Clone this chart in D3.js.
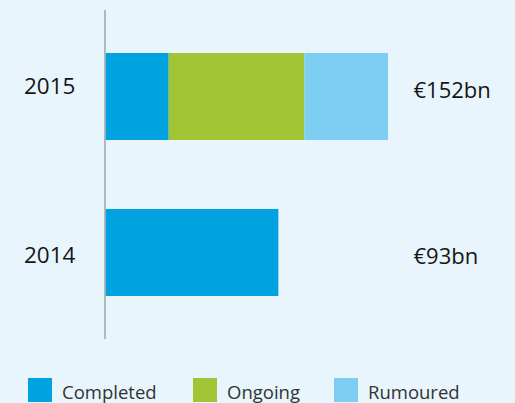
<!DOCTYPE html>
<html>
<head>
<meta charset="utf-8">
<script src="https://cdn.jsdelivr.net/npm/d3@7"></script>
<style>
  html, body { margin: 0; padding: 0; background: #e8f5fc; }
  svg { display: block; }
  text { font-family: "Open Sans", "Noto Sans", sans-serif; }
</style>
</head>
<body>
<svg id="chart" width="515" height="403"></svg>
<script>
const categories = ["2015", "2014"];
const seriesNames = ["Completed", "Ongoing", "Rumoured"];
const completed = [34, 93];
const ongoing = [73, 0];
const rumoured = [45, 0];
const totalLabels = ["€152bn", "€93bn"];
const colors = ["#00a3e0", "#a2c536", "#7ecef3"];

const svg = d3.select("#chart");
svg.append("rect").attr("width", 515).attr("height", 403).attr("fill", "#e8f5fc");

const rows = categories.map((c, i) => ({
  cat: c, Completed: completed[i], Ongoing: ongoing[i], Rumoured: rumoured[i]
}));
const stacked = d3.stack().keys(seriesNames)(rows);

const x = d3.scaleLinear().domain([0, 152]).range([105.5, 388]);
const y = d3.scaleBand().domain(categories).range([53, 296]).paddingInner(0.4423).paddingOuter(0);
const color = d3.scaleOrdinal().domain(seriesNames).range(colors);

svg.append("g").selectAll("g")
  .data(stacked).join("g")
  .attr("fill", d => color(d.key))
  .selectAll("rect")
  .data(d => d).join("rect")
  .attr("x", d => x(d[0]))
  .attr("y", d => y(d.data.cat))
  .attr("width", d => x(d[1]) - x(d[0]))
  .attr("height", y.bandwidth());

// vertical axis line
svg.append("line")
  .attr("x1", 105).attr("x2", 105)
  .attr("y1", 10).attr("y2", 339)
  .attr("stroke", "#a0a4a8").attr("stroke-width", 1.5);

// category labels
const labelOffsets = { "2015": -2.5, "2014": 11 };
svg.append("g").selectAll("text")
  .data(categories).join("text")
  .attr("x", 24)
  .attr("y", d => y(d) + y.bandwidth() / 2 + labelOffsets[d])
  .attr("font-size", "22.5px")
  .attr("fill", "#151515")
  .text(d => d);

// total labels
const valueOffsets = [1.8, 11.5];
svg.append("g").selectAll("text")
  .data(totalLabels).join("text")
  .attr("x", 413.5)
  .attr("y", (d, i) => y(categories[i]) + y.bandwidth() / 2 + valueOffsets[i])
  .attr("font-size", "22px")
  .attr("fill", "#151515")
  .text(d => d);

// legend
const legendX = [28, 193, 334];
const legend = svg.append("g").selectAll("g")
  .data(seriesNames).join("g")
  .attr("transform", (d, i) => `translate(${legendX[i]},378)`);
legend.append("rect")
  .attr("width", 24).attr("height", 24)
  .attr("fill", d => color(d));
legend.append("text")
  .attr("x", 34).attr("y", 20.5)
  .attr("font-size", "18.5px")
  .attr("fill", "#333")
  .text(d => d);
</script>
</body>
</html>
